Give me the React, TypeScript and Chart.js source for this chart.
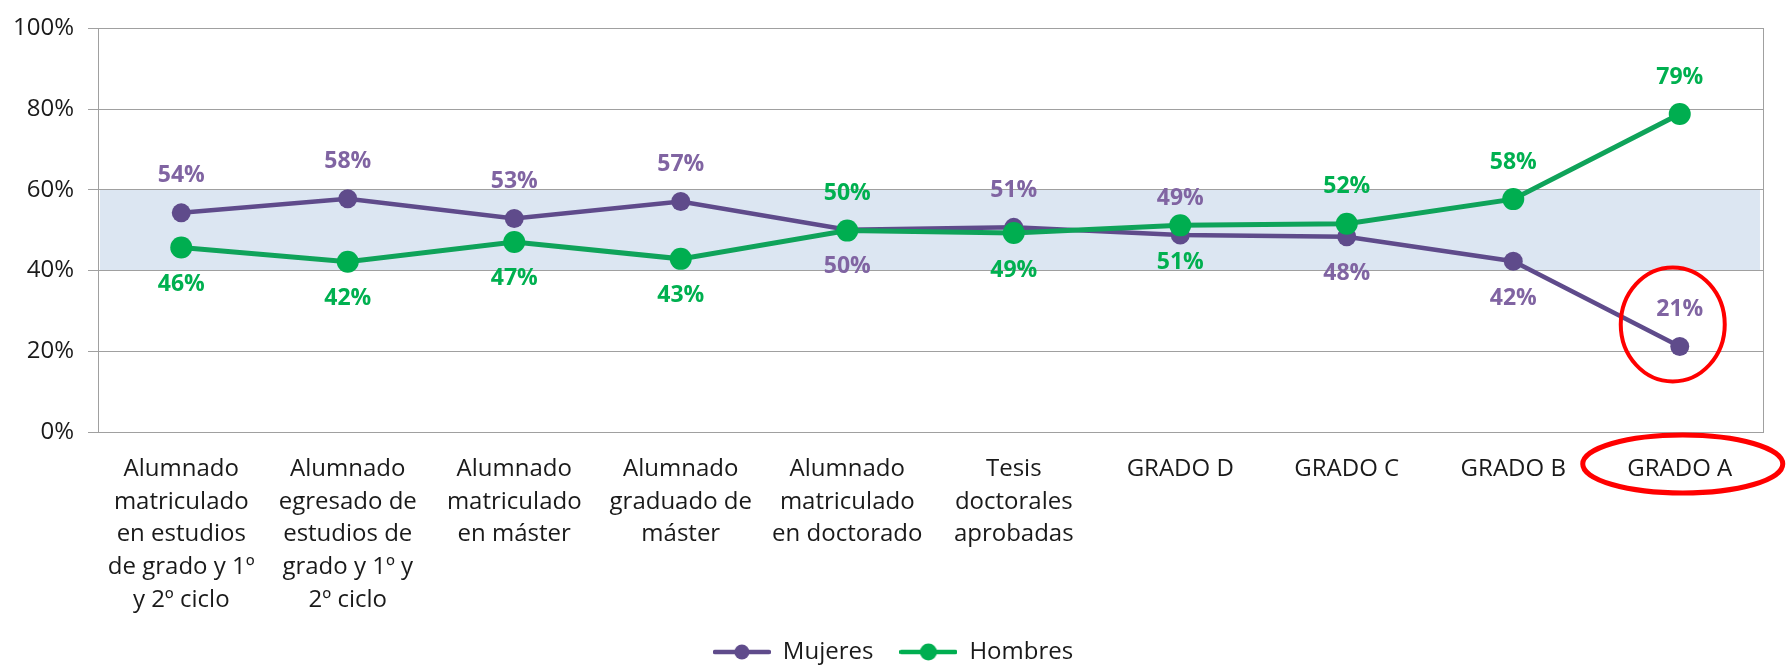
import React, { useEffect, useRef } from "react";
import { Chart, registerables } from "chart.js";

Chart.register(...registerables);

const categories: (string | string[])[] = [
  ["Alumnado", "matriculado", "en estudios", "de grado y 1º", "y 2º ciclo"],
  ["Alumnado", "egresado de", "estudios de", "grado y 1º y", "2º ciclo"],
  ["Alumnado", "matriculado", "en máster"],
  ["Alumnado", "graduado de", "máster"],
  ["Alumnado", "matriculado", "en doctorado"],
  ["Tesis", "doctorales", "aprobadas"],
  "GRADO D",
  "GRADO C",
  "GRADO B",
  "GRADO A",
];

const mujeres = [54.3, 57.8, 52.9, 57.1, 50.1, 50.7, 48.8, 48.4, 42.3, 21.2];
const hombres = [45.7, 42.2, 47.1, 42.9, 49.9, 49.3, 51.2, 51.6, 57.7, 78.8];

const mujeresLabelPos = ["above", "above", "above", "above", "below", "above", "above", "below", "below", "above"];
const hombresLabelPos = ["below", "below", "below", "below", "above", "below", "below", "above", "above", "above"];

const yTickValues = [0, 20, 40, 60, 80, 100];
const bandRange = [40, 60];

const FONT = "'Open Sans', 'DejaVu Sans', sans-serif";
const GRID = "#A0A0A0";
const M_LINE = "#5F4B8B";
const M_LABEL = "#8064A2";
const H_LINE = "#0FA35A";
const H_POINT = "#00AE50";
const H_LABEL = "#00B050";

function legendSymbol(color: string, pointColor: string, r: number): HTMLCanvasElement {
  const c = document.createElement("canvas");
  c.width = 58;
  c.height = 20;
  const ctx = c.getContext("2d")!;
  ctx.strokeStyle = color;
  ctx.lineWidth = 4.5;
  ctx.lineCap = "round";
  ctx.beginPath();
  ctx.moveTo(2, 10);
  ctx.lineTo(56, 10);
  ctx.stroke();
  ctx.fillStyle = pointColor;
  ctx.beginPath();
  ctx.arc(29, 10, r, 0, Math.PI * 2);
  ctx.fill();
  return c;
}

const bandPlugin = {
  id: "band",
  beforeDraw(chart: any) {
    const { ctx, chartArea, scales } = chart;
    const y = scales.y;
    const top = y.getPixelForValue(bandRange[1]);
    const bot = y.getPixelForValue(bandRange[0]);
    ctx.save();
    ctx.fillStyle = "#DCE6F2";
    ctx.fillRect(chartArea.left + 2, top, chartArea.right - chartArea.left - 5, bot - top);
    ctx.restore();
  },
};

const labelPlugin = {
  id: "pctLabels",
  afterDatasetsDraw(chart: any) {
    const { ctx } = chart;
    ctx.save();
    ctx.font = `bold 23px ${FONT}`;
    ctx.textAlign = "center";
    ctx.textBaseline = "middle";
    chart.data.datasets.forEach((ds: any, di: number) => {
      const meta = chart.getDatasetMeta(di);
      const pos = di === 0 ? mujeresLabelPos : hombresLabelPos;
      ctx.fillStyle = di === 0 ? M_LABEL : H_LABEL;
      meta.data.forEach((pt: any, i: number) => {
        const v = ds.data[i] as number;
        const dy = pos[i] === "above" ? -37 : 37;
        ctx.fillText(Math.round(v) + "%", pt.x, pt.y + dy);
      });
    });
    ctx.restore();
  },
};

const highlightPlugin = {
  id: "highlight",
  afterDraw(chart: any) {
    const { ctx, scales, chartArea } = chart;
    const last = categories.length - 1;
    const px = scales.x.getPixelForValue(last);
    const py = scales.y.getPixelForValue(mujeres[last]);
    ctx.save();
    ctx.strokeStyle = "#FF0000";
    ctx.lineWidth = 4;
    ctx.beginPath();
    ctx.ellipse(px - 7, py - 22, 52, 57, 0, 0, Math.PI * 2);
    ctx.stroke();
    ctx.lineWidth = 5;
    ctx.beginPath();
    ctx.ellipse(px + 3, chartArea.bottom + 32, 100, 29, 0, 0, Math.PI * 2);
    ctx.stroke();
    ctx.restore();
  },
};

export default function App() {
  const ref = useRef<HTMLCanvasElement | null>(null);

  useEffect(() => {
    document.body.style.margin = "0";
    document.body.style.overflow = "hidden";
    const canvas = ref.current!;
    const mSym = legendSymbol(M_LINE, M_LINE, 7.5);
    const hSym = legendSymbol(H_POINT, H_POINT, 8.5);

    const chart = new Chart(canvas, {
      type: "line",
      data: {
        labels: categories,
        datasets: [
          {
            label: "Mujeres",
            data: mujeres,
            borderColor: M_LINE,
            backgroundColor: M_LINE,
            pointBackgroundColor: M_LINE,
            pointBorderColor: M_LINE,
            borderWidth: 4.5,
            pointRadius: 9.5,
            pointBorderWidth: 0,
            tension: 0,
            order: 1,
          },
          {
            label: "Hombres",
            data: hombres,
            borderColor: H_LINE,
            backgroundColor: H_POINT,
            pointBackgroundColor: H_POINT,
            pointBorderColor: H_POINT,
            borderWidth: 5,
            pointRadius: 11,
            pointBorderWidth: 0,
            tension: 0,
            order: 0,
          },
        ],
      },
      options: {
        responsive: false,
        animation: false,
        devicePixelRatio: 1,
        layout: { autoPadding: false, padding: { top: 23, right: 0, bottom: -8, left: 0 } },
        plugins: {
          tooltip: { enabled: false },
          legend: {
            display: true,
            position: "bottom",
            labels: {
              usePointStyle: true,
              pointStyleWidth: 58,
              padding: 26,
              color: "#1a1a1a",
              font: { family: FONT, size: 24 },
              generateLabels: (ch: any) =>
                ch.data.datasets.map((ds: any, i: number) => ({
                  text: ds.label,
                  pointStyle: i === 0 ? mSym : hSym,
                  fillStyle: "transparent",
                  strokeStyle: "transparent",
                  lineWidth: 0,
                  hidden: false,
                  datasetIndex: i,
                  fontColor: "#1a1a1a",
                })),
            },
          },
        },
        scales: {
          x: {
            type: "category",
            offset: true,
            grid: { display: false, drawTicks: false },
            border: { display: true, color: GRID, width: 1 },
            ticks: {
              autoSkip: false,
              maxRotation: 0,
              minRotation: 0,
              padding: 21,
              color: "#1a1a1a",
              font: { family: FONT, size: 24, lineHeight: 1.36 },
            },
            afterFit: (s: any) => {
              s.height = 182;
            },
          },
          y: {
            type: "linear",
            position: "left",
            min: 0,
            max: 100,
            afterBuildTicks: (s: any) => {
              s.ticks = yTickValues.map((v) => ({ value: v }));
            },
            grid: { color: GRID, lineWidth: 1, drawTicks: true, tickLength: 10, tickColor: GRID },
            border: { display: true, color: GRID, width: 1 },
            ticks: {
              padding: 14,
              color: "#1a1a1a",
              font: { family: FONT, size: 24 },
              callback: (v: any) => v + "%",
            },
            afterFit: (s: any) => {
              s.width = 98;
            },
          },
          y2: {
            type: "linear",
            position: "right",
            min: 0,
            max: 100,
            grid: { display: false, drawTicks: false },
            border: { display: true, color: GRID, width: 1 },
            ticks: { display: false },
            afterFit: (s: any) => {
              s.width = 23;
            },
          },
        },
      },
      plugins: [bandPlugin, labelPlugin, highlightPlugin],
    } as any);

    return () => chart.destroy();
  }, []);

  return (
    <div style={{ width: 1786, height: 666, background: "#fff" }}>
      <canvas ref={ref} width={1786} height={666} style={{ display: "block" }} />
    </div>
  );
}
